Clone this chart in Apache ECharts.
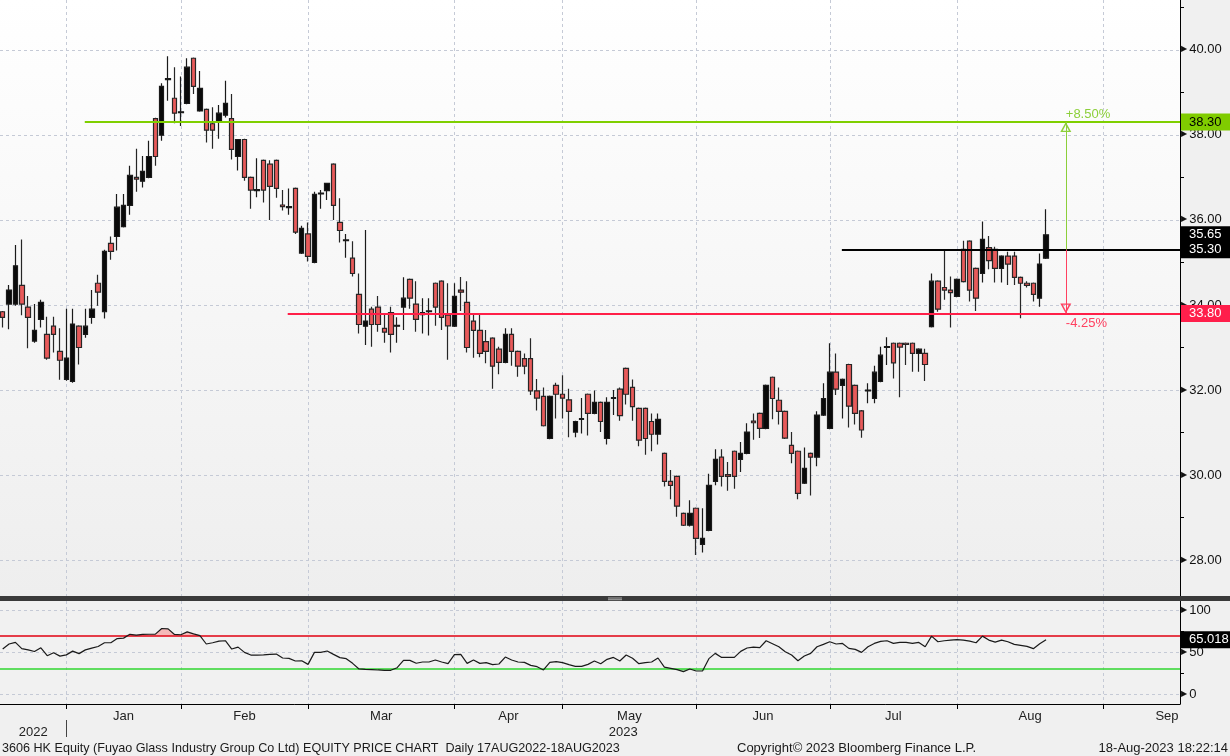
<!DOCTYPE html>
<html><head><meta charset="utf-8">
<script src="https://cdn.jsdelivr.net/npm/echarts@6/dist/echarts.min.js"></script>
<style>html,body{margin:0;padding:0;background:#f0f0f0}#c{width:1230px;height:756px}</style>
</head><body><div id="c"></div>
<script>
// ---- data (trading-day index 0 = 14 Dec 2022 ... 164 = 18 Aug 2023) ----
const openP = [33.84,34.02,34.02,34.46,33.95,33.15,33.66,33.31,33.50,32.91, 32.25,32.20,33.50,33.31,33.71,34.51,33.84,35.45,35.61,35.84,
 36.34,37.00,36.91,37.00,38.38,37.99,39.30,38.86,38.52,38.74, 39.80,38.56,38.60,38.26,38.32,38.46,38.38,37.49,37.89,37.00,
 36.69,37.40,37.31,37.40,36.35,36.29,36.74,35.22,35.67,35.00, 36.61,36.69,37.31,35.94,35.51,35.10,34.25,33.50,33.90,33.95,
 33.45,33.82,33.50,33.95,34.60,34.02,33.77,33.84,34.51,34.56, 33.76,33.50,34.35,34.06,33.62,33.40,33.14,33.22,32.96,32.65,
 33.31,32.91,32.74,32.74,31.98,31.85,30.86,32.11,31.90,31.77, 31.01,31.31,31.90,31.45,31.71,30.86,31.80,32.02,32.51,32.06,
 31.57,31.57,31.26,30.96,30.51,29.85,29.97,29.10,28.82,29.22, 28.37,28.70,29.85,30.42,30.01,30.56,30.37,30.51,31.27,31.45,
 31.10,32.30,31.76,31.50,30.70,30.56,29.81,30.51,30.42,31.41, 31.10,32.42,32.11,32.60,32.11,31.51,31.98,31.80,32.20,33.00,
 33.10,33.10,33.10,33.10,32.86,32.86,33.49,34.56,34.41,34.35, 34.20,35.31,35.50,34.86,34.74,35.35,35.31,34.86,35.15,35.15,
 34.65,34.51,34.51,34.16,35.10];
const highP = [33.86,34.47,35.41,35.54,34.21,34.02,34.12,33.72,33.72,33.45, 33.91,33.91,33.52,33.91,34.35,34.71,35.30,35.61,36.61,36.61,
 37.27,37.67,37.50,37.86,38.40,39.21,39.85,39.59,39.37,39.80, 39.82,39.50,38.62,38.65,38.70,39.27,38.96,37.90,37.91,37.02,
 37.45,37.42,37.40,37.42,36.70,36.74,36.76,35.86,35.94,36.66, 36.70,36.87,37.33,36.51,35.67,35.50,34.74,35.76,33.96,34.21,
 33.80,33.96,33.71,34.65,34.62,34.56,34.16,34.16,34.53,34.58, 34.51,34.51,34.66,34.56,33.80,33.80,33.41,33.24,33.02,33.45,
 33.45,32.93,32.86,33.22,32.26,32.06,31.87,32.17,32.35,32.03, 31.28,31.81,31.92,31.99,31.73,31.83,32.00,32.06,32.53,32.25,
 31.59,31.59,31.45,31.45,30.53,30.12,29.99,29.12,29.41,29.24, 29.22,30.03,30.61,30.61,30.31,30.58,30.78,31.22,31.45,31.47,
 32.13,32.32,32.06,31.52,31.01,30.58,30.65,30.53,31.50,32.16, 33.10,32.86,32.27,32.62,32.13,31.53,32.16,32.57,33.02,33.24,
 33.12,33.12,33.12,33.12,32.98,32.97,34.74,34.58,35.31,34.67, 34.62,35.51,35.52,34.88,35.96,35.62,35.37,35.17,35.25,35.25,
 34.67,34.56,34.53,35.21,36.25];
const lowP = [33.47,33.43,33.98,33.76,32.98,33.11,33.47,32.71,32.88,32.24, 32.22,32.17,32.60,33.23,33.56,33.98,33.68,35.06,35.28,35.82,
 36.12,36.66,36.76,36.98,37.27,37.86,38.80,38.27,38.21,38.72, 38.96,38.54,37.82,37.67,37.91,38.41,37.42,37.16,36.92,36.26,
 36.53,36.41,36.00,36.52,36.22,36.12,35.67,35.20,35.02,34.98, 36.26,36.47,36.00,35.47,35.11,34.67,33.33,33.06,33.02,33.37,
 33.11,32.88,33.11,33.41,33.91,33.37,33.33,33.28,33.51,33.41, 32.71,33.48,33.86,32.88,32.76,32.77,32.63,32.03,32.37,32.63,
 32.57,32.31,32.37,31.88,31.52,31.14,30.84,31.33,31.33,30.89, 30.89,30.98,30.93,31.43,31.01,30.72,31.41,31.28,31.66,31.28,
 30.68,30.48,30.56,30.72,29.73,29.43,29.02,28.80,28.79,28.12, 28.18,28.68,29.76,29.73,29.63,29.68,30.07,30.49,30.83,30.87,
 31.08,31.31,31.19,30.85,30.28,29.43,29.79,29.52,30.21,31.39, 31.08,31.88,31.33,31.12,31.19,30.88,31.69,31.69,32.18,32.59,
 32.27,31.83,32.59,32.43,32.43,32.21,33.47,33.84,34.12,33.47, 34.18,34.53,34.08,33.86,34.53,34.84,34.53,34.53,34.47,34.47,
 33.69,34.41,34.08,33.96,35.08];
const closeP = [33.71,34.35,34.92,34.02,33.71,33.40,34.06,32.75,33.31,32.70, 32.75,33.55,33.00,33.50,33.90,34.30,35.26,35.26,36.30,36.34,
 37.05,36.96,37.14,37.49,37.49,39.14,39.32,38.51,38.54,39.59, 39.14,39.09,38.11,38.11,38.51,38.74,37.66,37.89,37.00,36.70,
 36.71,36.70,36.79,36.74,36.31,36.31,35.71,35.80,35.14,36.60, 36.63,36.86,36.34,35.75,35.53,34.74,33.54,33.62,33.54,33.54,
 33.36,33.31,33.52,34.16,34.16,33.66,33.82,33.86,33.95,33.71, 33.51,34.20,34.30,33.00,33.40,32.86,32.91,32.56,32.65,33.31,
 32.91,32.56,32.56,31.98,31.81,31.16,31.85,31.90,31.81,31.50, 31.26,31.33,31.45,31.71,31.26,31.71,31.82,31.40,31.90,31.61,
 30.82,30.86,30.96,31.31,29.85,29.76,29.27,28.82,29.10,28.51, 28.51,29.76,30.37,29.97,29.97,29.97,30.51,31.01,31.23,31.10,
 32.11,31.80,31.50,30.87,30.51,29.57,30.16,30.42,31.41,31.80, 32.42,32.02,32.25,31.62,31.45,31.06,32.00,32.42,32.82,33.02,
 32.64,33.01,33.07,32.86,32.96,32.60,34.56,33.90,34.35,34.29, 34.60,34.55,34.35,34.16,35.54,35.04,34.86,35.15,34.96,34.65,
 34.51,34.46,34.25,34.96,35.65];
const rsi = [54,60,62,54.5,53,51,55.5,46,49.5,45.5, 47,51.5,48.5,53,55,57,61.5,61.5,66.5,67,
 71.5,70.5,71.4,71.6,71.8,78.5,78,71.4,71,74.5, 72,70,60,61.5,63.5,63.9,54,56.3,50,46.8,
 46.8,47,47.5,48,43.3,42.9,39.7,40,35.7,50, 50,51.6,47.6,43.7,42.5,36.9,30.2,29.8,29.5,29,
 28.6,28.6,31.7,40.5,40.5,37,38.5,38.5,40.9,38.5, 36.5,47.2,47.6,36.9,40.9,36.9,37.7,35.3,36.1,44.4,
 40.9,38.5,38.1,34.5,32.9,29,38.1,38.9,37.7,35.3, 33.3,33.3,35.7,39.7,36.5,41.7,44,39.7,46.8,42.9,
 36.5,37.7,38.5,43.3,32.5,31,29.4,27,30.2,27.8, 27.8,42.5,48.8,44,44,44,51.2,55.2,56.3,55.6,
 63.9,60.3,56.7,50.8,46.8,40,45.6,48.8,56.7,59.5, 62.7,60,60.7,54.8,53.6,50,56.7,60.7,63.1,63.9,
 60.7,61.9,61.9,60.7,61.9,56.7,69.4,62.7,63.9,64.7, 65.1,64.7,63.5,61.5,69.4,64.7,62.3,64.7,62.7,59.5,
 58.3,57.1,54.4,60.3,65.018];
const monthEnds = [10,28,48,71,88,109,130,150,173,193];   // last trading day of each month (index)
const monthNames = ['Jan','Feb','Mar','Apr','May','Jun','Jul','Aug','Sep'];
const yearNames = ['2022','2023'];
const yearBreak = [10];
const priceTicks = [28,30,32,34,36,38,40];
const priceMinor = [29,31,33,35,37,39,41];
const rsiTicks = [0,50,100];
const rsiMinor = [25,75];
const rsiBands = [30,70];
const lastPrice = 35.65;
const lastRsi = 65.018;
const levelValues = [38.30, 35.30, 33.80];
const levelStarts = [12.9, 131.9, 44.8];
const levelNames = ['green','black','red'];
const arrowIdx = 167.1;
const arrowBase = 35.30;
const arrowTexts = ['+8.50%','-4.25%'];

// ---- build ----
const xMin = -0.424, xMax = 185.05;
const FONT = '"Liberation Sans", Arial, sans-serif';
const candles = openP.map((o,i)=>[i,o,closeP[i],lowP[i],highP[i]]);
const rsiData = rsi.map((v,i)=>[i,v]);
const obData = rsi.map((v,i)=>[i,Math.max(v,rsiBands[1])]);
const osData = rsi.map((v,i)=>[i,Math.min(v,rsiBands[0])]);
const monthMid = monthNames.map((n,i)=>(monthEnds[i]+monthEnds[i+1])/2);
const yearMid = [(xMin+yearBreak[0])/2,(yearBreak[0]+xMax)/2];
const COLORS = {green:{line:'#7fcf00',bg:'#80cc00',fg:'#000'}, black:{line:'#000',bg:'#000',fg:'#fff'}, red:{line:'#ff1f48',bg:'#ff1f4b',fg:'#fff'}};
const hollowTri = 'path://M0,10 L10,10 L5,0 Z M2.2,8.6 L5,3 L7.8,8.6 Z';

function boxLabel(text,bg,fg){
  return {show:true,position:'end',distance:1,formatter:text,backgroundColor:bg,color:fg,
    fontFamily:FONT,fontSize:13,lineHeight:15,padding:[1,12,1,8]};
}
const markData = levelValues.map((v,i)=>{
  const c = COLORS[levelNames[i]];
  return [{coord:[levelStarts[i],v],symbol:'none'},{coord:[xMax,v],symbol:'none',
    lineStyle:{color:c.line,width:2,type:'solid'},label:boxLabel(v.toFixed(2),c.bg,c.fg)}];
});
markData.push([{coord:[candles.length-1,lastPrice],symbol:'none'},{coord:[xMax,lastPrice],symbol:'none',
  lineStyle:{color:'rgba(0,0,0,0)',width:0},label:boxLabel(lastPrice.toFixed(2),'#000','#fff')}]);
markData.push([{coord:[arrowIdx,arrowBase],symbol:'none'},{coord:[arrowIdx,levelValues[0]],symbol:hollowTri,symbolSize:[11,10],symbolOffset:[0,5],
  lineStyle:{color:'#8ccf3a',width:1,type:'solid'},
  label:{show:true,position:'end',distance:1,align:'left',formatter:arrowTexts[0],color:'#8ccf3a',fontFamily:FONT,fontSize:13}}]);
markData.push([{coord:[arrowIdx,arrowBase],symbol:'none'},{coord:[arrowIdx,levelValues[2]],symbol:hollowTri,symbolSize:[11,10],symbolOffset:[0,5],
  lineStyle:{color:'#ff4060',width:1,type:'solid'},
  label:{show:true,position:'end',distance:3,align:'left',formatter:arrowTexts[1],color:'#ff4060',fontFamily:FONT,fontSize:13}}]);

const dash = {show:true,lineStyle:{color:'#c5cad6',type:[3,3],width:1}};
const arrowRich = {a:{fontSize:8,color:'#111',padding:[0,2,1,0],fontFamily:'DejaVu Sans'}};
const noZero = {onZero:false};

const option = {
  animation:false,
  backgroundColor:'#f0f0f0',
  textStyle:{fontFamily:FONT},
  grid:[
    {left:0,top:0,width:1180,height:596,show:true,borderWidth:0,
      backgroundColor:new echarts.graphic.LinearGradient(0,0,0,1,[{offset:0,color:'#ffffff'},{offset:1,color:'#eeeeee'}])},
    {left:0,top:601,width:1180,height:103,show:true,borderWidth:0,backgroundColor:'#f1f1f1'}
  ],
  xAxis:[
    {gridIndex:0,type:'value',min:xMin,max:xMax,position:'bottom',axisLine:{show:false,onZero:false},axisTick:{show:false,customValues:monthEnds},
      axisLabel:{show:false},splitLine:dash},
    {gridIndex:1,type:'value',min:xMin,max:xMax,position:'bottom',
      axisLine:{show:true,onZero:false,lineStyle:{color:'#000',width:1}},
      axisTick:{show:true,customValues:monthEnds,length:5,lineStyle:{color:'#000'}},
      axisLabel:{show:true,customValues:monthMid,margin:6,fontSize:13,color:'#222',fontFamily:FONT,
        formatter:v=>{const i=monthMid.findIndex(m=>Math.abs(m-v)<1e-6);return i>=0?monthNames[i]:'';}},
      splitLine:dash},
    {gridIndex:1,type:'value',min:xMin,max:xMax,position:'bottom',offset:16,
      axisLine:{show:false,onZero:false},
      axisTick:{show:true,customValues:yearBreak,length:17,lineStyle:{color:'#444'}},
      axisLabel:{show:true,customValues:yearMid,margin:6,fontSize:13,color:'#222',fontFamily:FONT,
        formatter:v=>{const i=yearMid.findIndex(m=>Math.abs(m-v)<1e-6);return i>=0?yearNames[i]:'';}},
      splitLine:{show:false}}
  ],
  yAxis:[
    {gridIndex:0,type:'value',position:'right',min:27.157,max:41.17,
      axisLine:{show:true,onZero:false,lineStyle:{color:'#000',width:1}},
      axisTick:{show:false,customValues:priceTicks},
      axisLabel:{show:true,customValues:priceTicks,margin:1,fontSize:13,color:'#111',fontFamily:FONT,rich:arrowRich,
        formatter:v=>'{a|▶}'+v.toFixed(2)},
      splitLine:dash},
    {gridIndex:0,type:'value',position:'right',min:27.157,max:41.17,
      axisLine:{show:false,onZero:false},axisTick:{show:true,customValues:priceMinor,length:4,lineStyle:{color:'#000'}},
      axisLabel:{show:false},splitLine:{show:false}},
    {gridIndex:1,type:'value',position:'right',min:-11.6,max:111.3,
      axisLine:{show:true,onZero:false,lineStyle:{color:'#000',width:1}},
      axisTick:{show:false,customValues:rsiTicks},
      axisLabel:{show:true,customValues:rsiTicks,margin:1,fontSize:13,color:'#111',fontFamily:FONT,rich:arrowRich,
        formatter:v=>'{a|▶}'+v},
      splitLine:dash},
    {gridIndex:1,type:'value',position:'right',min:-11.6,max:111.3,
      axisLine:{show:false,onZero:false},axisTick:{show:true,customValues:rsiMinor,length:4,lineStyle:{color:'#000'}},
      axisLabel:{show:false},splitLine:{show:false}}
  ],
  series:[
    {type:'candlestick',xAxisIndex:0,yAxisIndex:0,data:candles,encode:{x:0,y:[1,2,3,4]},
      barWidth:5,
      itemStyle:{color:'#0a0a0a',color0:'#e85a5a',borderColor:'#1a1a1a',borderColor0:'#262626',borderWidth:1.2},
      markLine:{silent:true,symbol:'none',animation:false,data:markData}},
    {type:'line',xAxisIndex:1,yAxisIndex:2,data:obData,symbol:'none',silent:true,
      lineStyle:{width:0},areaStyle:{origin:rsiBands[1],color:'#f5b8b8',opacity:1}},
    {type:'line',xAxisIndex:1,yAxisIndex:2,data:osData,symbol:'none',silent:true,
      lineStyle:{width:0},areaStyle:{origin:rsiBands[0],color:'#b8eeb8',opacity:1}},
    {type:'line',xAxisIndex:1,yAxisIndex:2,data:rsiData,symbol:'none',silent:true,
      lineStyle:{color:'#1a1a1a',width:1.2},z:5,
      markLine:{silent:true,symbol:'none',animation:false,data:[
        [{coord:[xMin,rsiBands[1]]},{coord:[xMax,rsiBands[1]],lineStyle:{color:'#e00010',width:1.5,type:'solid'},label:{show:false}}],
        [{coord:[xMin,rsiBands[0]]},{coord:[xMax,rsiBands[0]],lineStyle:{color:'#2fd62f',width:1.5,type:'solid'},label:{show:false}}],
        [{coord:[rsi.length-1,lastRsi]},{coord:[xMax,lastRsi],lineStyle:{color:'rgba(0,0,0,0)',width:0},
          label:boxLabel(String(lastRsi),'#000','#fff')}]
      ]}}
  ],
  graphic:[
    {type:'rect',left:0,top:596,shape:{width:1230,height:5},style:{fill:'#3a3a3a'},z:100},
    {type:'rect',left:608,top:597.5,shape:{width:14,height:1},style:{fill:'#a8a8a8'},z:101},
    {type:'rect',left:608,top:599.2,shape:{width:14,height:1},style:{fill:'#a8a8a8'},z:101},
    {type:'text',left:2,top:742,style:{text:'3606 HK Equity (Fuyao Glass Industry Group Co Ltd) EQUITY PRICE CHART  Daily 17AUG2022-18AUG2023',
      font:'12.6px '+FONT,fill:'#1a1a1a'},z:100},
    {type:'text',left:737,top:742,style:{text:'Copyright\u00a9 2023 Bloomberg Finance L.P.',font:'13px '+FONT,fill:'#1a1a1a'},z:100},
    {type:'text',right:2,top:742,style:{text:'18-Aug-2023 18:22:14',font:'13px '+FONT,fill:'#1a1a1a'},z:100}
  ]
};
const chart = echarts.init(document.getElementById('c'));
chart.setOption(option);
</script></body></html>
